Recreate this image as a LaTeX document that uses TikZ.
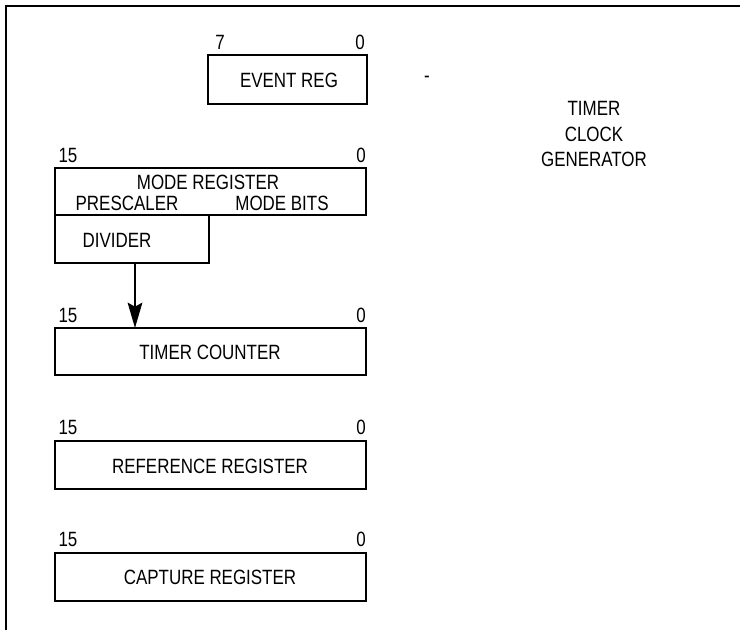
\documentclass[tikz,border=0pt]{standalone}
\usepackage{fontspec}
\setmainfont{Liberation Sans}[FakeStretch=0.82]
\usetikzlibrary{arrows.meta}
\begin{document}
\begin{tikzpicture}[x=0.75pt,y=-0.75pt,
  reg/.style={draw,line width=1.8pt},
  lbl/.style={inner sep=0pt,anchor=center,font=\fontsize{15.5pt}{18pt}\selectfont},
  frame/.style={line width=1.6pt}]
\useasboundingbox (0,0) rectangle (740,630);
% frame (top and left only)
\coordinate (fl) at (6,630);
\coordinate (fc) at (6,6);
\coordinate (fr) at (740,6);
\draw[frame] (fl) -- (fc) -- (fr);
% event register
\draw[reg] (208,55) rectangle (367,104);
\node[lbl] (evt) at (289,80) {EVENT REG};
\node[lbl] (e7) at (220,42) {7};
\node[lbl] (e0) at (360,42) {0};
\node[lbl] (dash) at (427,79) {-};
% timer clock generator
\node[lbl,align=center] (tcg) at (594,134) {TIMER\\[1pt]CLOCK\\[1pt]GENERATOR};
% mode register
\draw[reg] (55,168) rectangle (366,215);
\draw[reg] (55,215) rectangle (209,263);
\node[lbl] (m15) at (68,155) {15};
\node[lbl] (m0) at (361,155) {0};
\node[lbl] (mr) at (208,182) {MODE REGISTER};
\node[lbl] (ps) at (127,203) {PRESCALER};
\node[lbl] (mb) at (282,203) {MODE BITS};
\node[lbl] (dv) at (117,240) {DIVIDER};
\coordinate (divb) at (135,263);
% timer counter
\draw[reg] (55,328) rectangle (366,375);
\coordinate (tct) at (135,328);
\node[lbl] (t15) at (68,315) {15};
\node[lbl] (t0) at (361,315) {0};
\node[lbl] (tc) at (210,352) {TIMER COUNTER};
\draw[line width=1.3pt,-{Stealth[length=19pt,width=11pt,inset=3pt]}] (divb) -- (tct);
% reference register
\draw[reg] (55,441) rectangle (366,489);
\node[lbl] (r15) at (68,427) {15};
\node[lbl] (r0) at (361,427) {0};
\node[lbl] (rr) at (210,466) {REFERENCE REGISTER};
% capture register
\draw[reg] (55,553) rectangle (366,601);
\node[lbl] (c15) at (68,539) {15};
\node[lbl] (c0) at (361,539) {0};
\node[lbl] (cr) at (210,577) {CAPTURE REGISTER};
\end{tikzpicture}
\end{document}
